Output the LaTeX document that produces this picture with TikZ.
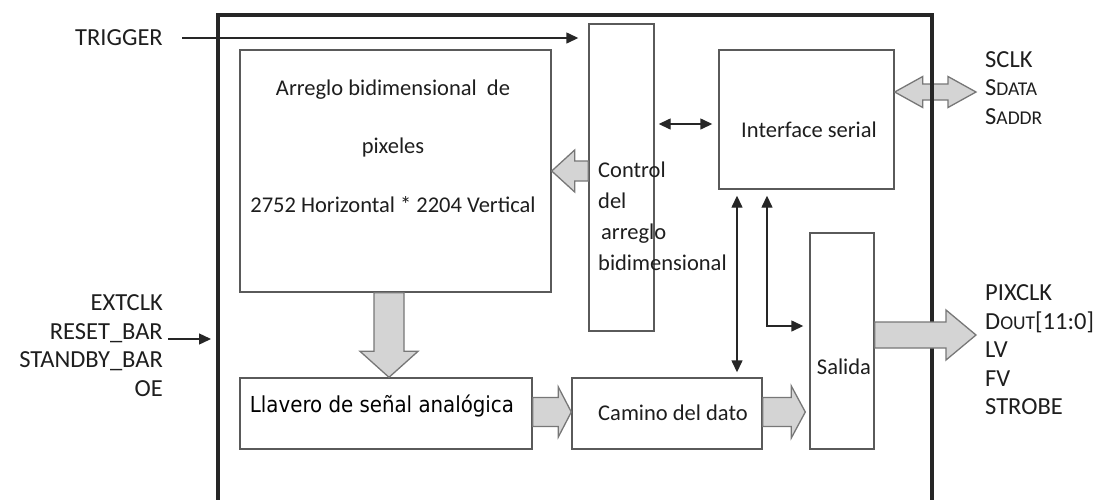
\documentclass[tikz,border=0pt]{standalone}
\usepackage{fontspec}
\setmainfont{Carlito}
\newfontfamily\llavfont{DejaVu Sans Condensed}
\usepackage{tikz}
\usetikzlibrary{positioning, arrows.meta, calc}
\definecolor{boxLine}{HTML}{5A5A5A}
\definecolor{fatFill}{HTML}{D4D4D4}
\definecolor{fatLine}{HTML}{777777}
\definecolor{txtDark}{HTML}{1E1E1E}

% fat arrows: start, end, shaft half, head half, head length
\newcommand{\fatH}[5]{%
  \draw[fat] let \p1=(#1), \p2=(#2), \n1={sign(\x2-\x1)*#5} in
    (\x1,\y1+#3) -- (\x2-\n1,\y1+#3) -- (\x2-\n1,\y1+#4) -- (\x2,\y1)
    -- (\x2-\n1,\y1-#4) -- (\x2-\n1,\y1-#3) -- (\x1,\y1-#3) -- cycle;}
\newcommand{\fatV}[5]{%
  \draw[fat] let \p1=(#1), \p2=(#2), \n1={sign(\y2-\y1)*#5} in
    (\x1+#3,\y1) -- (\x1+#3,\y2-\n1) -- (\x1+#4,\y2-\n1) -- (\x1,\y2)
    -- (\x1-#4,\y2-\n1) -- (\x1-#3,\y2-\n1) -- (\x1-#3,\y1) -- cycle;}
\newcommand{\fatHH}[5]{%
  \draw[fat] let \p1=(#1), \p2=(#2), \n1={sign(\x2-\x1)*#5} in
    (\x1,\y1) -- (\x1+\n1,\y1+#4) -- (\x1+\n1,\y1+#3) -- (\x2-\n1,\y1+#3)
    -- (\x2-\n1,\y1+#4) -- (\x2,\y1) -- (\x2-\n1,\y1-#4) -- (\x2-\n1,\y1-#3)
    -- (\x1+\n1,\y1-#3) -- (\x1+\n1,\y1-#4) -- cycle;}
\newcommand{\fakesc}[1]{{\fontsize{19.5}{28.5}\selectfont #1}}

\begin{document}
\begin{tikzpicture}[
  x=1pt, y=-1pt,
  >={Triangle[length=12pt, width=11pt]},
  blk/.style={draw=boxLine, line width=1.4pt, inner sep=0pt},
  fat/.style={draw=fatLine, fill=fatFill, line width=1.3pt, line join=miter},
  sig/.style={line width=1.4pt, black!85},
  lbl/.style={inner sep=0pt, text=txtDark, font=\fontsize{24.5}{28.5}\selectfont},
  intxt/.style={inner sep=0pt, text=txtDark, font=\fontsize{22.5}{31}\selectfont},
  frame/.style={line width=3.2pt, black!85},
]
  \useasboundingbox (0,0) rectangle (1104,499);

  % Blocks
  \node[blk, minimum width=311pt, minimum height=242pt] (pix) at (395.5,171) {};
  \node[blk, minimum width=65pt, minimum height=307pt] (ctrl) at (621.5,177.5) {};
  \node[blk, minimum width=175pt, minimum height=139pt] (ser) at (806.5,119.5) {};
  \node[blk, minimum width=64pt, minimum height=216pt] (sal) at (842,341) {};
  \node[blk, minimum width=292pt, minimum height=71pt] (llav) at (386,413.5) {};
  \node[blk, minimum width=190pt, minimum height=71pt] (cam) at (667,413.5) {};

  % Block texts
  \node[intxt, align=center, font=\fontsize{22.5}{58.5}\selectfont] (pixtxt) at (393,146)
    {Arreglo bidimensional\ \ de\\pixeles\\2752 Horizontal * 2204 Vertical};
  \node[intxt, anchor=west, align=left] (ctrltxt) at (598,216)
    {Control\\del\\\hspace{3pt}arreglo\\bidimensional};
  \node[intxt] (sertxt) at (809,130) {Interface serial};
  \node[intxt] (saltxt) at (844,367) {Salida};
  \node[intxt] (camtxt) at (673,413) {Camino del dato};
  \node[inner sep=0pt, text=black, font=\llavfont\fontsize{22}{25}\selectfont] (llavtxt) at (382,406)
    {Llavero de señal analógica};

  % Signal labels
  \node[lbl, anchor=east] (trig) at (163,38) {TRIGGER};
  \node[lbl, anchor=east, align=right] (ins) at (163,345.5)
    {EXTCLK\\RESET\_BAR\\STANDBY\_BAR\\OE};
  \node[lbl, anchor=west, align=left] (sers) at (985,88)
    {SCLK\\S\fakesc{DATA}\\S\fakesc{ADDR}};
  \node[lbl, anchor=west, align=left] (outs) at (985,350)
    {PIXCLK\\D\fakesc{OUT}[11:0]\\LV\\FV\\STROBE};

  % Fat arrows
  \coordinate (sertip) at (976,92);
  \coordinate (outtip) at (976,335);
  \fatHH{[yshift=27.5pt]ser.east}{sertip}{8}{15.5}{28}
  \draw[frame] (218,505) -- (218,15) -- (932,15) -- (932,505);
  \fatH{[yshift=6.5pt]ctrl.west}{pix.east}{10}{21}{23}
  \fatV{[xshift=-6.5pt]pix.south}{llav.north}{15}{29}{26}
  \fatH{[yshift=1.5pt]llav.east}{cam.west}{14.5}{25}{13}
  \fatH{[yshift=1.5pt]cam.east}{[xshift=-4pt]sal.west}{14.5}{26}{14}
  \fatH{[yshift=6pt]sal.east}{outtip}{13}{25}{30}

  % Thin connectors
  \draw[sig, ->, shorten <=19pt, shorten >=10pt] (trig.east) -- (trig.east -| ctrl.west);
  \coordinate (extin) at (211,339);
  \draw[sig, ->, shorten <=5pt] (extin -| ins.east) -- (extin);
  \coordinate (cs) at ([yshift=-4.5pt]ser.west);
  \draw[sig, <->, shorten <=4pt, shorten >=6pt] (ctrl.east |- cs) -- (cs);
  \coordinate (va) at (737,300);
  \coordinate (vb) at (767,300);
  \draw[sig, <->, shorten <=6pt, shorten >=5pt] (va |- ser.south) -- (va |- cam.north);
  \draw[sig, <->, shorten <=6pt, shorten >=6pt] (vb |- ser.south) |- ([yshift=15pt]sal.west);
\end{tikzpicture}
\end{document}
